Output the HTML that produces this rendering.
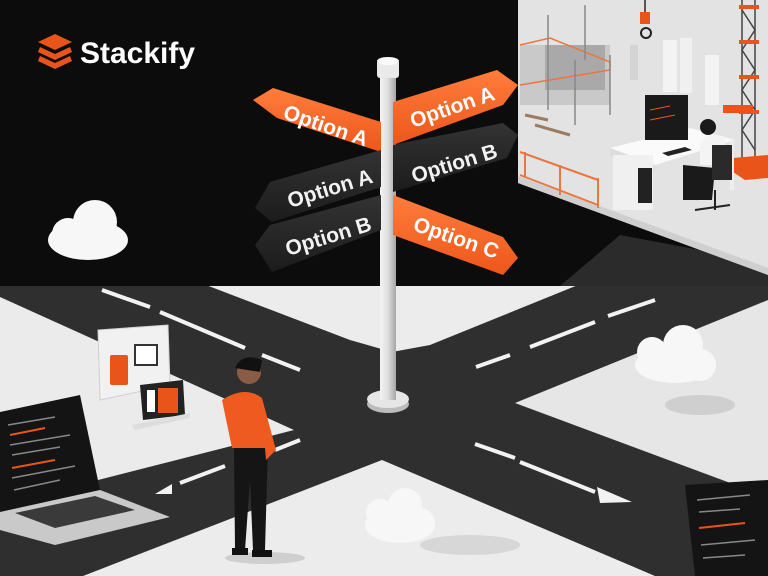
<!DOCTYPE html>
<html><head><meta charset="utf-8"><style>
html,body{margin:0;padding:0;width:768px;height:576px;overflow:hidden;background:#ececec}
svg{display:block}
text{font-family:"Liberation Sans",sans-serif}
</style></head><body>
<svg width="768" height="576" viewBox="0 0 768 576" xmlns="http://www.w3.org/2000/svg">
<defs>
<linearGradient id="pole" x1="0" x2="1"><stop offset="0" stop-color="#f4f4f4"/><stop offset="0.5" stop-color="#dedede"/><stop offset="1" stop-color="#a5a5a5"/></linearGradient>
<linearGradient id="or" x1="0" x2="0" y1="0" y2="1"><stop offset="0" stop-color="#ff7d3c"/><stop offset="1" stop-color="#ec561b"/></linearGradient>
<linearGradient id="dk" x1="0" x2="0" y1="0" y2="1"><stop offset="0" stop-color="#333"/><stop offset="1" stop-color="#1c1c1c"/></linearGradient>
</defs>
<!-- road base -->
<rect x="0" y="270" width="768" height="306" fill="#2f2f2f"/>
<!-- blocks -->
<polygon points="206,285 578,285 430,345 392,352 350,340" fill="#ececec"/>
<polygon points="0,297 294,430 0,505" fill="#ebebeb"/>
<polygon points="515,403 768,300 768,497" fill="#e6e6e6"/>
<polygon points="382,460 655,576 83,576" fill="#ececec"/>
<!-- black top -->
<rect x="0" y="0" width="768" height="286" fill="#0c0c0c"/>
<polygon points="560,286 768,286 768,275 700,250 620,235" fill="#2b2b2b"/>
<!-- construction scene -->
<polygon points="518,0 768,0 768,275 518,183" fill="#e3e3e3"/>
<polygon points="518,183 768,275 768,268 518,176" fill="#cfcfcf"/>
<rect x="520" y="45" width="90" height="60" fill="#c9c9c9"/>
<rect x="545" y="45" width="60" height="45" fill="#a9a9a9"/>
<g stroke="#e9773f" stroke-width="1.5" fill="none"><path d="M520 45 L550 38 L610 62 L610 70 L520 85"/></g>
<g stroke="#888" stroke-width="1.5"><line x1="548" y1="15" x2="548" y2="110"/><line x1="585" y1="5" x2="585" y2="60"/><line x1="575" y1="60" x2="575" y2="125"/><line x1="610" y1="55" x2="610" y2="115"/></g>
<g stroke="#9c7b60" stroke-width="3"><line x1="525" y1="115" x2="548" y2="120"/><line x1="535" y1="125" x2="570" y2="135"/></g>
<rect x="630" y="45" width="8" height="35" fill="#d4d4d4"/><rect x="663" y="40" width="14" height="52" fill="#f3f3f3"/><rect x="680" y="38" width="12" height="55" fill="#f0f0f0"/><rect x="705" y="55" width="14" height="50" fill="#f3f3f3"/>
<line x1="645" y1="0" x2="645" y2="14" stroke="#555" stroke-width="2"/><rect x="640" y="12" width="10" height="12" fill="#e9541a"/><circle cx="646" cy="33" r="5" fill="none" stroke="#222" stroke-width="2"/>
<g stroke="#444" stroke-width="1.5" fill="none"><line x1="742" y1="0" x2="742" y2="160"/><line x1="755" y1="0" x2="755" y2="160"/>
<path d="M742 10 L755 30 L742 50 L755 70 L742 90 L755 110 L742 130 L755 150"/></g>
<g fill="#e9541a"><rect x="739" y="5" width="20" height="4"/><rect x="739" y="40" width="20" height="4"/><rect x="739" y="75" width="20" height="4"/><rect x="739" y="110" width="20" height="4"/><rect x="723" y="105" width="30" height="8"/></g>
<polygon points="733,158 768,155 768,178 745,180 733,172" fill="#e9541a"/>
<g stroke="#e9773f" stroke-width="2" fill="none"><path d="M520 152 L598 180 M520 175 L598 205"/><line x1="525" y1="152" x2="525" y2="178"/><line x1="560" y1="165" x2="560" y2="195"/><line x1="598" y1="178" x2="598" y2="208"/></g>
<polygon points="610,148 690,128 735,140 655,165" fill="#fafafa"/>
<polygon points="610,148 655,165 655,172 610,156" fill="#ddd"/>
<rect x="613" y="155" width="40" height="55" fill="#f0f0f0"/>
<rect x="638" y="168" width="14" height="35" fill="#222"/>
<rect x="730" y="140" width="4" height="50" fill="#eee"/>
<rect x="645" y="95" width="43" height="45" fill="#1a1a1a"/>
<g stroke="#e9541a" stroke-width="1"><line x1="650" y1="110" x2="670" y2="106"/><line x1="650" y1="120" x2="675" y2="115"/></g>
<polygon points="662,153 685,147 692,150 668,156" fill="#222"/>
<path d="M700 145 Q705 130 725 137 L725 165 L700 165 Z" fill="#f4f4f4"/>
<circle cx="708" cy="127" r="8" fill="#1a1a1a"/>
<path d="M683 165 L715 168 L712 200 L683 200 Z" fill="#1a1a1a"/>
<rect x="712" y="145" width="20" height="35" fill="#2a2a2a"/>
<line x1="715" y1="190" x2="715" y2="210" stroke="#222" stroke-width="2"/><line x1="695" y1="210" x2="730" y2="205" stroke="#222" stroke-width="2"/>
<!-- road dashes -->
<g stroke="#f2f2f2" stroke-width="4">
<line x1="102" y1="290" x2="150" y2="307"/><line x1="160" y1="312" x2="245" y2="348"/><line x1="262" y1="355" x2="300" y2="370"/>
<line x1="476" y1="367" x2="510" y2="355"/><line x1="530" y1="347" x2="595" y2="322"/><line x1="608" y1="316" x2="655" y2="300"/>
<line x1="475" y1="444" x2="515" y2="458"/><line x1="520" y1="462" x2="595" y2="492"/>
<line x1="180" y1="483" x2="225" y2="466"/><line x1="275" y1="450" x2="300" y2="440"/>
</g>
<polygon points="597,487 632,502 600,503" fill="#f2f2f2"/>
<polygon points="155,494 172,484 172,494" fill="#f2f2f2"/>
<!-- shadows -->
<ellipse cx="700" cy="405" rx="35" ry="10" fill="#cfcfcf"/>
<ellipse cx="470" cy="545" rx="50" ry="10" fill="#d2d2d2" opacity="0.8"/>
<!-- logo -->
<g fill="#e9541a"><polygon points="55,34 72,42 55,50 38,42"/><polygon points="40,47 55,54 70,47 72,52 55,60 38,52"/><polygon points="40,56 55,63 70,56 72,61 55,69 38,61"/></g>
<text x="80" y="63" font-size="30" font-weight="bold" fill="#fff">Stackify</text>
<!-- clouds -->
<g fill="#f7f7f7"><ellipse cx="88" cy="240" rx="40" ry="20"/><circle cx="95" cy="222" r="22"/><circle cx="68" cy="234" r="16"/>
<ellipse cx="675" cy="365" rx="40" ry="18"/><circle cx="683" cy="345" r="20"/><circle cx="652" cy="352" r="15"/><circle cx="700" cy="365" r="16"/>
<ellipse cx="400" cy="525" rx="35" ry="18"/><circle cx="405" cy="505" r="17"/><circle cx="380" cy="513" r="14"/><circle cx="420" cy="523" r="15"/></g>
<!-- pole -->
<ellipse cx="388" cy="404" rx="21" ry="9" fill="#bcbcbc"/>
<ellipse cx="388" cy="399" rx="21" ry="9" fill="#e6e6e6"/>
<rect x="380" y="68" width="16" height="332" fill="url(#pole)"/>
<rect x="377" y="60" width="22" height="18" rx="3" fill="#eaeaea"/>
<ellipse cx="388" cy="61" rx="11" ry="4" fill="#fafafa"/>
<!-- signs -->
<polygon points="253,100 273,88 381,122 381,152 277,118" fill="url(#or)"/>
<text font-size="21" font-weight="bold" fill="#fff" transform="translate(282,118) rotate(19)">Option A</text>
<polygon points="393,102 497,70 518,85 503,105 393,145" fill="url(#or)"/>
<text font-size="21" font-weight="bold" fill="#fff" transform="translate(413,128) rotate(-19)">Option A</text>
<polygon points="255,208 270,182 381,150 381,187 272,222" fill="url(#dk)"/>
<text font-size="21" font-weight="bold" fill="#f2f2f2" transform="translate(290,208) rotate(-17)">Option A</text>
<polygon points="393,145 503,123 518,135 507,158 393,192" fill="url(#dk)"/>
<text font-size="21" font-weight="bold" fill="#f2f2f2" transform="translate(414,183) rotate(-17)">Option B</text>
<polygon points="255,245 270,225 381,195 381,230 272,272" fill="url(#dk)"/>
<text font-size="21" font-weight="bold" fill="#f2f2f2" transform="translate(288,256) rotate(-17)">Option B</text>
<polygon points="393,195 503,237 518,258 503,275 393,235" fill="url(#or)"/>
<text font-size="21" font-weight="bold" fill="#fff" transform="translate(412,230) rotate(19)">Option C</text>
<!-- monitor card -->
<polygon points="98,330 168,325 170,385 100,400" fill="#f1f1f1" stroke="#cfcfcf"/>
<rect x="110" y="355" width="18" height="30" rx="2" fill="#e9541a"/><rect x="135" y="345" width="22" height="20" fill="#fff" stroke="#333" stroke-width="2"/>
<polygon points="140,385 183,380 185,415 143,420" fill="#222"/><rect x="147" y="390" width="8" height="22" fill="#fff"/><rect x="158" y="388" width="20" height="25" fill="#e9541a"/>
<polygon points="132,425 190,413 190,418 135,430" fill="#ddd"/>
<!-- person -->
<ellipse cx="265" cy="558" rx="40" ry="6" fill="#cfcfcf"/>
<path d="M234 445 L268 445 L265 550 L253 550 L250 480 L245 550 L235 550 Z" fill="#151515"/>
<path d="M222 400 Q245 385 262 398 L276 450 L266 460 L265 448 L232 448 Z" fill="#ee5a1f"/>
<circle cx="249" cy="372" r="12" fill="#8b5c44"/><path d="M235 368 Q242 352 262 360 L260 372 Z" fill="#111"/>
<rect x="232" y="548" width="16" height="7" fill="#111"/><rect x="252" y="550" width="20" height="7" fill="#111"/>
<!-- laptops -->
<polygon points="0,412 80,395 100,490 0,512" fill="#141414"/>
<g stroke="#e9541a" stroke-width="2"><line x1="10" y1="435" x2="45" y2="428"/><line x1="12" y1="468" x2="55" y2="460"/></g>
<g stroke="#888" stroke-width="1.5"><line x1="8" y1="425" x2="55" y2="417"/><line x1="10" y1="445" x2="70" y2="435"/><line x1="12" y1="455" x2="60" y2="447"/><line x1="12" y1="478" x2="75" y2="466"/><line x1="14" y1="490" x2="60" y2="480"/></g>
<polygon points="0,512 100,490 170,517 55,545 0,530" fill="#c9c9c9"/>
<polygon points="15,513 95,496 135,510 55,528" fill="#3a3a3a"/>
<polygon points="685,485 768,480 768,576 695,576" fill="#141414"/>
<g stroke="#888" stroke-width="1.5"><line x1="697" y1="500" x2="750" y2="495"/><line x1="699" y1="512" x2="740" y2="509"/><line x1="701" y1="545" x2="755" y2="540"/><line x1="703" y1="558" x2="745" y2="555"/></g>
<line x1="699" y1="528" x2="745" y2="523" stroke="#e9541a" stroke-width="2"/>
</svg>
</body></html>
